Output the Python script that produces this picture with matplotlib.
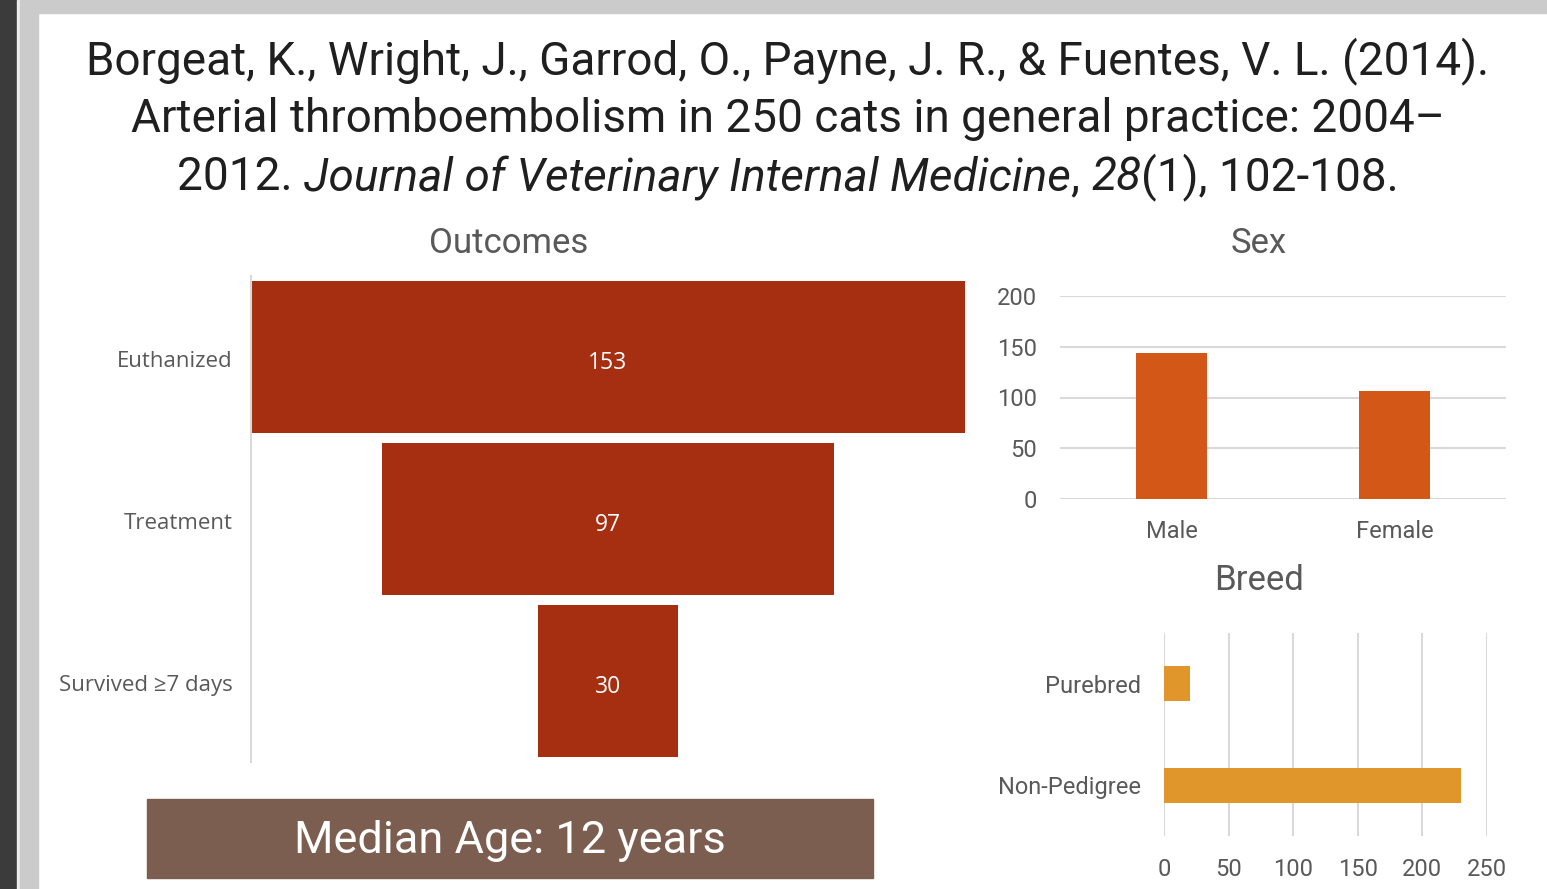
import matplotlib
matplotlib.use('Agg')
import matplotlib.pyplot as plt
from matplotlib.patches import Rectangle

# ---- data ----
outcome_labels = ['Euthanized', 'Treatment', 'Survived \u22657 days']
outcome_values = [153, 97, 30]

sex_labels = ['Male', 'Female']
sex_values = [144, 106]

breed_labels = ['Purebred', 'Non-Pedigree']
breed_values = [20, 230]

# citation, as (text, italic) pieces per line
title_lines = [
    [('Borgeat, K., Wright, J., Garrod, O., Payne, J. R., & Fuentes, V. L. (2014).', False)],
    [('Arterial thromboembolism in 250 cats in general practice: 2004\u2013', False)],
    [('2012. ', False), ('Journal of Veterinary Internal Medicine', True), (', ', False),
     ('28', True), ('(1), 102-108.', False)],
]
median_age_text = 'Median Age: 12 years'

W, H = 1547, 889
fig = plt.figure(figsize=(W / 100, H / 100), dpi=100)
fig.patch.set_facecolor('white')

GRAY_TXT = '#595959'
GRID = '#d9d9d9'
FONT = ['Open Sans', 'DejaVu Sans']
TFONT = ['Roboto', 'DejaVu Sans']


def ax_px(x0, y0, x1, y1):
    return fig.add_axes([x0 / W, 1 - y1 / H, (x1 - x0) / W, (y1 - y0) / H])


def fig_rect(x0, y0, x1, y1, color):
    fig.patches.append(Rectangle((x0 / W, 1 - y1 / H), (x1 - x0) / W, (y1 - y0) / H,
                                 transform=fig.transFigure, color=color, zorder=0))


# window frame
fig_rect(0, 0, 17, H, '#3b3b3b')
fig_rect(17, 0, 20, H, '#ececec')
fig_rect(20, 0, 38, H, '#cbcbcb')
fig_rect(38, 0, W, 13, '#cbcbcb')

# ---- citation title (pieces laid out along a shared baseline) ----
renderer = fig.canvas.get_renderer()
center_x = 788
for row, pieces in enumerate(title_lines):
    base_y = 1 - (74 + 58 * row) / H
    texts, widths = [], []
    for s, it in pieces:
        t = fig.text(0, base_y, s, ha='left', va='baseline', fontsize=33,
                     color='#1f1f1f', family=TFONT, style='italic' if it else 'normal')
        texts.append(t)
        widths.append(t.get_window_extent(renderer).width)
    x = center_x - sum(widths) / 2
    for t, w in zip(texts, widths):
        t.set_x(x / W)
        x += w

# ---- funnel: outcomes ----
ax = ax_px(251, 276, 965, 762)
vmax = max(outcome_values)
lefts = [(vmax - v) / 2 for v in outcome_values]
ax.barh(range(len(outcome_values)), outcome_values, left=lefts, height=0.94,
        color='#a52f10')
for i, v in enumerate(outcome_values):
    ax.text(vmax / 2, i + 0.02, str(v), ha='center', va='center_baseline', color='white',
            fontsize=16.5, family=FONT)
ax.set_xlim(0, vmax)
ax.set_ylim(2.5, -0.5)
ax.set_yticks([i + 0.015 for i in range(len(outcome_labels))])
ax.set_yticklabels(outcome_labels, fontsize=16, color=GRAY_TXT, family=FONT)
ax.tick_params(axis='y', length=0, pad=13)
ax.set_xticks([])
for s in ['top', 'right', 'bottom']:
    ax.spines[s].set_visible(False)
ax.spines['left'].set_color(GRID)
ax.spines['left'].set_linewidth(1.5)
fig.text(509 / W, 1 - 240 / H, 'Outcomes', ha='center', va='center_baseline', fontsize=25,
         color=GRAY_TXT, family=TFONT)

# median age box
fig_rect(147, 799, 873, 878, '#7c5e50')
fig.text(510 / W, 1 - 837 / H, median_age_text, ha='center', va='center_baseline',
         fontsize=32.5, color='white', family=TFONT)

# ---- sex column chart ----
ax2 = ax_px(1060, 296, 1506, 499)
ax2.bar(range(len(sex_values)), sex_values, width=0.314, color='#d35717', zorder=3)
ax2.set_xlim(-0.5, 1.5)
ax2.set_ylim(0, 200)
ax2.set_yticks([0, 50, 100, 150, 200])
ax2.set_xticks(range(len(sex_labels)))
ax2.set_xticklabels(sex_labels)
ax2.tick_params(axis='both', length=0, labelsize=17, labelcolor=GRAY_TXT)
ax2.tick_params(axis='y', pad=16.5)
ax2.tick_params(axis='x', pad=15)
for lab in ax2.get_xticklabels() + ax2.get_yticklabels():
    lab.set_family(TFONT)
ax2.grid(axis='y', color=GRID, lw=1.5, zorder=0)
for s in ax2.spines.values():
    s.set_visible(False)
fig.text(1259 / W, 1 - 240 / H, 'Sex', ha='center', va='center_baseline', fontsize=25,
         color=GRAY_TXT, family=TFONT)

# ---- breed bar chart ----
ax3 = ax_px(1164, 633, 1487, 836)
ax3.barh(range(len(breed_values)), breed_values, height=0.345, color='#e0962a', zorder=3)
ax3.set_ylim(1.5, -0.5)
ax3.set_xlim(0, 250)
ax3.set_xticks([0, 50, 100, 150, 200, 250])
ax3.set_yticks(range(len(breed_labels)))
ax3.set_yticklabels(breed_labels)
ax3.tick_params(axis='both', length=0, labelsize=17, labelcolor=GRAY_TXT)
ax3.tick_params(axis='y', pad=16.5)
ax3.tick_params(axis='x', pad=16)
for lab in ax3.get_xticklabels() + ax3.get_yticklabels():
    lab.set_family(TFONT)
ax3.grid(axis='x', color=GRID, lw=1.5, zorder=0)
for s in ax3.spines.values():
    s.set_visible(False)
fig.text(1259 / W, 1 - 577 / H, 'Breed', ha='center', va='center_baseline', fontsize=25,
         color=GRAY_TXT, family=TFONT)

fig.savefig('out.png', dpi=100)
